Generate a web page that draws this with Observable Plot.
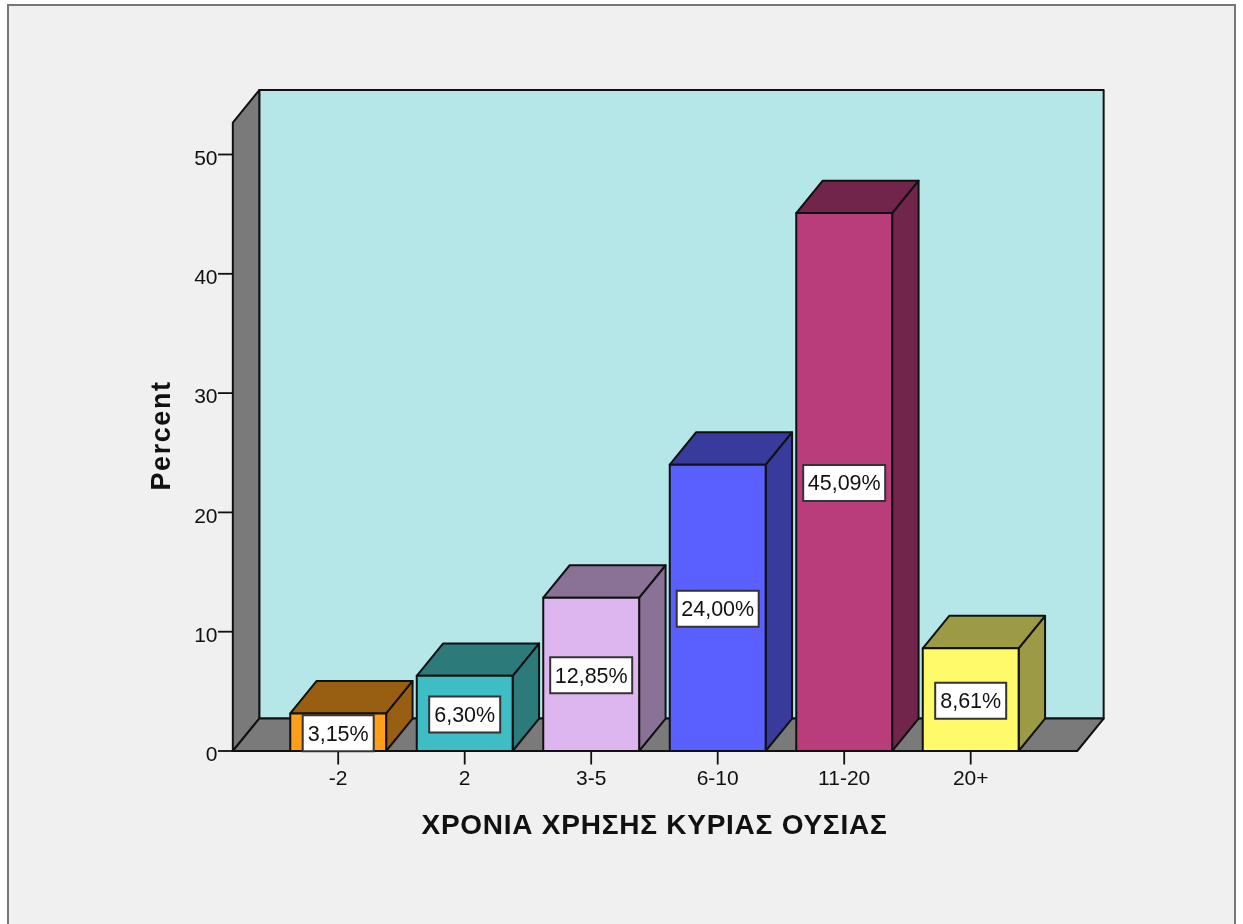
<!DOCTYPE html>
<html>
<head>
<meta charset="utf-8">
<script src="https://cdn.jsdelivr.net/npm/d3@7"></script>
<script src="https://cdn.jsdelivr.net/npm/@observablehq/plot@0.6"></script>
<style>
html,body{margin:0;padding:0;background:#fff;overflow:hidden}
#wrap{position:relative;width:1243px;height:924px}
#frame{position:absolute;left:7px;top:4px;width:1225px;height:920px;background:#f0f0f0;border:2px solid #777;border-bottom:none;box-sizing:content-box;filter:blur(.4px)}
#chart{position:absolute;left:0;top:0}
#chart svg{display:block;filter:blur(.35px)}
</style>
</head>
<body>
<div id="wrap"><div id="frame"></div><div id="chart"></div></div>
<script>
const categories = ["-2", "2", "3-5", "6-10", "11-20", "20+"];
const percents = [3.15, 6.30, 12.85, 24.00, 45.09, 8.61];
const labels = ["3,15%", "6,30%", "12,85%", "24,00%", "45,09%", "8,61%"];
const frontColors = ["#FF9E1B", "#3EBEC4", "#DDB6F0", "#5A60FF", "#B93D7B", "#FFFA6A"];
const shadeColors = ["#985E12", "#2D7A7A", "#8A7297", "#383A9C", "#71254B", "#9C9A44"];
const yTicks = [0, 10, 20, 30, 40, 50];
const xTitle = "ΧΡΟΝΙΑ ΧΡΗΣΗΣ ΚΥΡΙΑΣ ΟΥΣΙΑΣ";
const yTitle = "Percent";

// 3-D geometry, in data units of the two linear scales
const halfBar = 0.379, depthX = 0.209, depthY = 2.72;
const floorLeft = -0.833, floorRight = 5.842, wallTop = 52.68;

const bars = categories.map((c, i) => ({i, c, v: percents[i], label: labels[i], front: frontColors[i], shade: shadeColors[i]}));

const polys = [];
function poly(id, color, pts) { pts.forEach(([x, y]) => polys.push({id, color, x, y})); }
const shell = [];
function shellPoly(id, color, pts) { pts.forEach(([x, y]) => shell.push({id, color, x, y})); }
shellPoly("back", "#B5E7E8", [[floorLeft + depthX, depthY], [floorRight + depthX, depthY], [floorRight + depthX, wallTop + depthY], [floorLeft + depthX, wallTop + depthY]]);
shellPoly("left", "#7A7A7A", [[floorLeft, 0], [floorLeft, wallTop], [floorLeft + depthX, wallTop + depthY], [floorLeft + depthX, depthY]]);
shellPoly("floor", "#7A7A7A", [[floorLeft, 0], [floorRight, 0], [floorRight + depthX, depthY], [floorLeft + depthX, depthY]]);
bars.forEach(b => {
  const l = b.i - halfBar, r = b.i + halfBar;
  poly("side" + b.i, b.shade, [[r, 0], [r + depthX, depthY], [r + depthX, b.v + depthY], [r, b.v]]);
  poly("top" + b.i, b.shade, [[l, b.v], [r, b.v], [r + depthX, b.v + depthY], [l + depthX, b.v + depthY]]);
  poly("front" + b.i, b.front, [[l, 0], [r, 0], [r, b.v], [l, b.v]]);
});

const boxSymbol = (w, h) => ({draw(ctx) { ctx.rect(-w / 2, -h / 2, w, h); }});
const ink = "#111";

const chart = Plot.plot({
  width: 1243,
  height: 924,
  marginLeft: 232,
  marginRight: 0,
  marginTop: 0,
  marginBottom: 173.5,
  style: {background: "transparent", fontFamily: "'Liberation Sans', Arial, sans-serif", fontSize: "21px", color: ink},
  x: {type: "linear", domain: [0, 5], range: [337.7, 970.2]},
  y: {type: "linear", domain: [0, 50], range: [750.5, 154]},
  marks: [
    Plot.line(shell, {x: "x", y: "y", z: "id", fill: d => d.color, stroke: ink, strokeWidth: 2, curve: "linear-closed", strokeLinejoin: "round"}),
    Plot.line(polys, {x: "x", y: "y", z: "id", fill: d => d.color, stroke: ink, strokeWidth: 2, curve: "linear-closed", strokeLinejoin: "round"}),
    Plot.axisY({ticks: yTicks, tickSize: 14, tickFormat: () => "", label: null, stroke: ink, strokeWidth: 1.8}),
    Plot.axisY({ticks: yTicks, tickSize: 0, tickPadding: 15, dy: 3.5, label: null, fill: ink}),
    Plot.axisX({ticks: d3.range(categories.length), tickSize: 14, tickPadding: 5, tickFormat: i => categories[i], label: null, stroke: ink, strokeWidth: 1.8, fill: ink}),
    Plot.dot(bars.filter(b => b.v < 10), {x: "i", y: d => d.v / 2, dy: 1, symbol: boxSymbol(71, 36), r: 5, fill: "#fff", stroke: "#333", strokeWidth: 2}),
    Plot.dot(bars.filter(b => b.v >= 10), {x: "i", y: d => d.v / 2, dy: 1, symbol: boxSymbol(82, 36), r: 5, fill: "#fff", stroke: "#333", strokeWidth: 2}),
    Plot.text(bars, {x: "i", y: d => d.v / 2, dy: 1.5, text: "label", fontSize: 21.5, fill: ink}),
    Plot.text([xTitle], {x: 2.5, y: -6.2, text: d => d, fontSize: 28, fontWeight: "bold", fill: ink}),
    Plot.text([yTitle], {x: -1.397, y: 26.45, text: d => d, rotate: -90, fontSize: 27, fontWeight: "bold", fill: ink})
  ]
});
chart.querySelectorAll("text").forEach(t => {
  if (t.textContent === xTitle) t.style.letterSpacing = "0.75px";
  if (t.textContent === yTitle) t.style.letterSpacing = "1.6px";
});
document.getElementById("chart").appendChild(chart);
</script>
</body>
</html>
